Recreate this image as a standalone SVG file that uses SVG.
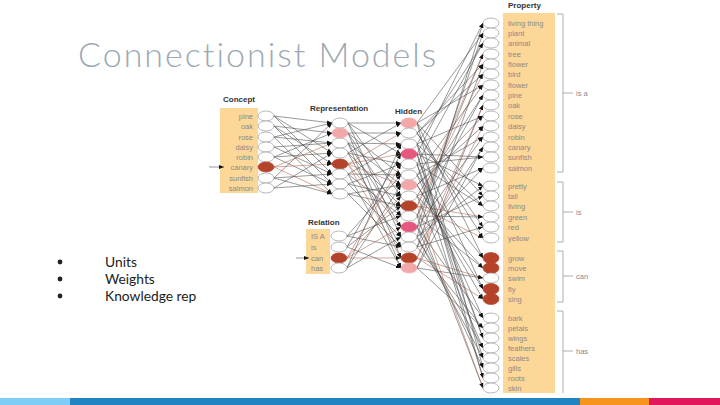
<svg xmlns="http://www.w3.org/2000/svg" width="720" height="405" viewBox="0 0 720 405">
<defs>
<marker id="a" viewBox="0 0 10 10" refX="10" refY="5" markerWidth="5" markerHeight="5" orient="auto" markerUnits="userSpaceOnUse"><path d="M0,1L10,5L0,9z" fill="#111"/></marker>
<style>
.t{font-family:"Lato","Liberation Sans",sans-serif;font-variant-ligatures:none}
.hd{font-family:"Liberation Sans",Arial,sans-serif;font-size:8px;font-weight:bold;fill:#333}
.it{font-family:"Liberation Sans",Arial,sans-serif;font-size:7.5px;fill:#8a8a8a}
.box{fill:#fdd797}
.n{fill:#fff;stroke:#9a9a9a;stroke-width:0.7}
.d{fill:#b4432a;stroke:#b4432a}
.lp{fill:#f2a7a8;stroke:#f2a7a8}
.hp{fill:#e6587e;stroke:#e6587e}
#links line{stroke:#444;stroke-width:0.55;marker-end:url(#a)}
#links line.r{stroke:#b0604a}
.br{stroke:#9a9a9a;stroke-width:0.8;fill:none}
</style>
</defs>
<rect width="720" height="405" fill="#fff"/>
<text class="t" x="78" y="67" font-size="34" font-weight="300" fill="#9ba9b4" letter-spacing="2">Connectionist Models</text>
<g id="bullets" class="t" font-size="13.8" fill="#222">
<circle cx="60" cy="262" r="2.4"/><text x="105" y="266.5">Units</text>
<circle cx="60" cy="279" r="2.4"/><text x="105" y="283.5">Weights</text>
<circle cx="60" cy="296" r="2.4"/><text x="105" y="300.5">Knowledge rep</text>
</g>
<g id="concept-box">
<rect class="box" x="220" y="108" width="38" height="85"/>
<text class="hd" x="223" y="102">Concept</text>
<g class="it" text-anchor="end">
<text x="253" y="119">pine</text><text x="253" y="129">oak</text><text x="253" y="140">rose</text><text x="253" y="150">daisy</text><text x="253" y="160">robin</text><text x="253" y="170">canary</text><text x="253" y="181">sunfish</text><text x="253" y="191">salmon</text>
</g>
</g>
<g id="relation-box">
<rect class="box" x="306" y="229" width="24" height="45"/>
<text class="hd" x="308" y="225">Relation</text>
<g class="it"><text x="311" y="239">IS A</text><text x="311" y="250">is</text><text x="311" y="261">can</text><text x="311" y="271">has</text></g>
</g>
<g id="property-box">
<rect class="box" x="503" y="13" width="52" height="380"/>
<text class="hd" x="508" y="8">Property</text>
<g class="it">
<text x="508" y="26">living thing</text><text x="508" y="36">plant</text><text x="508" y="46">animal</text><text x="508" y="57">tree</text><text x="508" y="67">flower</text><text x="508" y="77">bird</text><text x="508" y="88">flower</text><text x="508" y="98">pine</text><text x="508" y="108">oak</text><text x="508" y="119">rose</text><text x="508" y="129">daisy</text><text x="508" y="140">robin</text><text x="508" y="150">canary</text><text x="508" y="160">sunfish</text><text x="508" y="171">salmon</text>
<text x="508" y="189">pretty</text><text x="508" y="199">tall</text><text x="508" y="209">living</text><text x="508" y="220">green</text><text x="508" y="230">red</text><text x="508" y="241">yellow</text>
<text x="508" y="261">grow</text><text x="508" y="271">move</text><text x="508" y="281">swim</text><text x="508" y="292">fly</text><text x="508" y="302">sing</text>
<text x="508" y="321">bark</text><text x="508" y="331">petals</text><text x="508" y="341">wings</text><text x="508" y="351">feathers</text><text x="508" y="361">scales</text><text x="508" y="371">gills</text><text x="508" y="381">roots</text><text x="508" y="391">skin</text>
</g>
</g>
<g id="brackets">
<path class="br" d="M557,14H563V172H557M563,93H573"/>
<path class="br" d="M557,182H563V242H557M563,212H573"/>
<path class="br" d="M557,251H563V302H557M563,276H573"/>
<path class="br" d="M557,311H563V393M563,351H573"/>
<g class="it"><text x="576" y="96">is a</text><text x="576" y="215">is</text><text x="576" y="279">can</text><text x="576" y="354">has</text></g>
</g>
<g id="links">
<line x1="209" y1="167" x2="224" y2="167"/>
<line x1="296" y1="258" x2="309" y2="258"/>
<line x1="274" y1="116" x2="332" y2="123"/><line x1="274" y1="116" x2="332" y2="153"/><line x1="274" y1="116" x2="332" y2="174"/>
<line x1="274" y1="126" x2="332" y2="133"/><line x1="274" y1="126" x2="332" y2="164"/><line x1="274" y1="126" x2="332" y2="184"/>
<line x1="274" y1="137" x2="332" y2="123"/><line x1="274" y1="137" x2="332" y2="143"/><line x1="274" y1="137" x2="332" y2="194"/>
<line x1="274" y1="147" x2="332" y2="143"/><line x1="274" y1="147" x2="332" y2="174"/>
<line x1="274" y1="157" x2="332" y2="133"/><line x1="274" y1="157" x2="332" y2="153"/><line x1="274" y1="157" x2="332" y2="184"/>
<line class="r" x1="274" y1="167" x2="332" y2="143"/><line class="r" x1="274" y1="167" x2="332" y2="164"/><line class="r" x1="274" y1="167" x2="332" y2="194"/>
<line x1="274" y1="178" x2="332" y2="123"/><line x1="274" y1="178" x2="332" y2="174"/><line x1="274" y1="178" x2="332" y2="194"/>
<line x1="274" y1="188" x2="332" y2="153"/><line x1="274" y1="188" x2="332" y2="184"/>
<line x1="348" y1="123" x2="401" y2="123"/><line x1="348" y1="123" x2="401" y2="154"/><line x1="348" y1="123" x2="401" y2="196"/><line x1="348" y1="123" x2="401" y2="237"/>
<line x1="348" y1="133" x2="401" y2="133"/><line x1="348" y1="133" x2="401" y2="175"/><line x1="348" y1="133" x2="401" y2="216"/><line x1="348" y1="133" x2="401" y2="258"/>
<line x1="348" y1="143" x2="401" y2="144"/><line x1="348" y1="143" x2="401" y2="185"/><line x1="348" y1="143" x2="401" y2="227"/><line x1="348" y1="143" x2="401" y2="268"/>
<line x1="348" y1="153" x2="401" y2="123"/><line x1="348" y1="153" x2="401" y2="164"/><line x1="348" y1="153" x2="401" y2="206"/><line x1="348" y1="153" x2="401" y2="247"/>
<line class="r" x1="348" y1="164" x2="401" y2="133"/><line class="r" x1="348" y1="164" x2="401" y2="154"/><line class="r" x1="348" y1="164" x2="401" y2="185"/><line class="r" x1="348" y1="164" x2="401" y2="227"/><line class="r" x1="348" y1="164" x2="401" y2="258"/>
<line x1="348" y1="174" x2="401" y2="144"/><line x1="348" y1="174" x2="401" y2="175"/><line x1="348" y1="174" x2="401" y2="216"/><line x1="348" y1="174" x2="401" y2="268"/>
<line x1="348" y1="184" x2="401" y2="164"/><line x1="348" y1="184" x2="401" y2="196"/><line x1="348" y1="184" x2="401" y2="237"/>
<line x1="348" y1="194" x2="401" y2="185"/><line x1="348" y1="194" x2="401" y2="206"/><line x1="348" y1="194" x2="401" y2="247"/>
<line x1="347" y1="236" x2="401" y2="175"/><line x1="347" y1="236" x2="401" y2="216"/><line x1="347" y1="236" x2="401" y2="247"/>
<line x1="347" y1="247" x2="401" y2="154"/><line x1="347" y1="247" x2="401" y2="206"/><line x1="347" y1="247" x2="401" y2="268"/>
<line class="r" x1="347" y1="258" x2="401" y2="164"/><line class="r" x1="347" y1="258" x2="401" y2="196"/><line class="r" x1="347" y1="258" x2="401" y2="227"/><line class="r" x1="347" y1="258" x2="401" y2="258"/>
<line x1="347" y1="268" x2="401" y2="144"/><line x1="347" y1="268" x2="401" y2="185"/><line x1="347" y1="268" x2="401" y2="237"/>
<line x1="417" y1="154" x2="483" y2="23"/><line x1="417" y1="237" x2="483" y2="23"/>
<line x1="417" y1="227" x2="483" y2="33"/><line x1="417" y1="123" x2="483" y2="33"/>
<line x1="417" y1="144" x2="483" y2="43"/><line x1="417" y1="164" x2="483" y2="43"/>
<line x1="417" y1="216" x2="483" y2="54"/><line class="r" x1="417" y1="206" x2="483" y2="54"/>
<line x1="417" y1="133" x2="483" y2="64"/><line x1="417" y1="247" x2="483" y2="64"/>
<line class="r" x1="417" y1="206" x2="483" y2="74"/><line x1="417" y1="133" x2="483" y2="74"/>
<line x1="417" y1="123" x2="483" y2="85"/><line x1="417" y1="175" x2="483" y2="85"/>
<line x1="417" y1="196" x2="483" y2="95"/><line x1="417" y1="216" x2="483" y2="95"/>
<line x1="417" y1="268" x2="483" y2="105"/><line class="r" x1="417" y1="258" x2="483" y2="105"/>
<line x1="417" y1="185" x2="483" y2="116"/><line x1="417" y1="144" x2="483" y2="116"/>
<line class="r" x1="417" y1="258" x2="483" y2="126"/><line x1="417" y1="185" x2="483" y2="126"/>
<line x1="417" y1="175" x2="483" y2="137"/><line x1="417" y1="227" x2="483" y2="137"/>
<line x1="417" y1="247" x2="483" y2="147"/><line x1="417" y1="268" x2="483" y2="147"/>
<line x1="417" y1="164" x2="483" y2="157"/><line x1="417" y1="154" x2="483" y2="157"/>
<line x1="417" y1="237" x2="483" y2="168"/><line x1="417" y1="196" x2="483" y2="168"/>
<line x1="417" y1="154" x2="483" y2="186"/><line x1="417" y1="237" x2="483" y2="186"/>
<line x1="417" y1="227" x2="483" y2="196"/><line x1="417" y1="123" x2="483" y2="196"/>
<line x1="417" y1="144" x2="483" y2="206"/><line x1="417" y1="164" x2="483" y2="206"/>
<line x1="417" y1="216" x2="483" y2="217"/><line class="r" x1="417" y1="206" x2="483" y2="217"/>
<line x1="417" y1="133" x2="483" y2="227"/><line x1="417" y1="247" x2="483" y2="227"/>
<line class="r" x1="417" y1="206" x2="483" y2="238"/><line x1="417" y1="133" x2="483" y2="238"/>
<line x1="417" y1="123" x2="483" y2="258"/><line x1="417" y1="175" x2="483" y2="258"/>
<line x1="417" y1="196" x2="483" y2="268"/><line x1="417" y1="216" x2="483" y2="268"/>
<line x1="417" y1="268" x2="483" y2="278"/><line class="r" x1="417" y1="258" x2="483" y2="278"/>
<line x1="417" y1="185" x2="483" y2="289"/><line x1="417" y1="144" x2="483" y2="289"/>
<line class="r" x1="417" y1="258" x2="483" y2="299"/><line x1="417" y1="185" x2="483" y2="299"/>
<line x1="417" y1="175" x2="483" y2="318"/><line x1="417" y1="227" x2="483" y2="318"/>
<line x1="417" y1="247" x2="483" y2="328"/><line x1="417" y1="268" x2="483" y2="328"/>
<line x1="417" y1="164" x2="483" y2="338"/><line x1="417" y1="154" x2="483" y2="338"/>
<line x1="417" y1="237" x2="483" y2="348"/><line x1="417" y1="196" x2="483" y2="348"/>
<line x1="417" y1="154" x2="483" y2="358"/><line x1="417" y1="237" x2="483" y2="358"/>
<line x1="417" y1="227" x2="483" y2="368"/><line x1="417" y1="123" x2="483" y2="368"/>
<line x1="417" y1="144" x2="483" y2="378"/><line x1="417" y1="164" x2="483" y2="378"/>
<line x1="417" y1="216" x2="483" y2="388"/><line class="r" x1="417" y1="206" x2="483" y2="388"/>
</g>
<g id="concept-units">
<ellipse id="c0" class="n" cx="266" cy="116" rx="8" ry="5"/><ellipse id="c1" class="n" cx="266" cy="126" rx="8" ry="5"/><ellipse id="c2" class="n" cx="266" cy="137" rx="8" ry="5"/><ellipse id="c3" class="n" cx="266" cy="147" rx="8" ry="5"/><ellipse id="c4" class="n" cx="266" cy="157" rx="8" ry="5"/><ellipse id="c5" class="n d" cx="266" cy="167" rx="8" ry="5"/><ellipse id="c6" class="n" cx="266" cy="178" rx="8" ry="5"/><ellipse id="c7" class="n" cx="266" cy="188" rx="8" ry="5"/>
</g>
<g id="representation-units">
<text class="hd" x="310" y="111">Representation</text>
<ellipse id="r0" class="n" cx="340" cy="123" rx="8" ry="5"/><ellipse id="r1" class="n lp" cx="340" cy="133" rx="8" ry="5"/><ellipse id="r2" class="n" cx="340" cy="143" rx="8" ry="5"/><ellipse id="r3" class="n" cx="340" cy="153" rx="8" ry="5"/><ellipse id="r4" class="n d" cx="340" cy="164" rx="8" ry="5"/><ellipse id="r5" class="n" cx="340" cy="174" rx="8" ry="5"/><ellipse id="r6" class="n" cx="340" cy="184" rx="8" ry="5"/><ellipse id="r7" class="n" cx="340" cy="194" rx="8" ry="5"/>
</g>
<g id="relation-units">
<ellipse id="q0" class="n" cx="339" cy="236" rx="8" ry="5"/><ellipse id="q1" class="n" cx="339" cy="247" rx="8" ry="5"/><ellipse id="q2" class="n d" cx="339" cy="258" rx="8" ry="5"/><ellipse id="q3" class="n" cx="339" cy="268" rx="8" ry="5"/>
</g>
<g id="hidden-units">
<text class="hd" x="395" y="114">Hidden</text>
<ellipse id="h0" class="n lp" cx="409" cy="123" rx="8" ry="5"/><ellipse id="h1" class="n" cx="409" cy="133" rx="8" ry="5"/><ellipse id="h2" class="n" cx="409" cy="144" rx="8" ry="5"/><ellipse id="h3" class="n hp" cx="409" cy="154" rx="8" ry="5"/><ellipse id="h4" class="n" cx="409" cy="164" rx="8" ry="5"/><ellipse id="h5" class="n" cx="409" cy="175" rx="8" ry="5"/><ellipse id="h6" class="n lp" cx="409" cy="185" rx="8" ry="5"/><ellipse id="h7" class="n" cx="409" cy="196" rx="8" ry="5"/><ellipse id="h8" class="n d" cx="409" cy="206" rx="8" ry="5"/><ellipse id="h9" class="n" cx="409" cy="216" rx="8" ry="5"/><ellipse id="h10" class="n hp" cx="409" cy="227" rx="8" ry="5"/><ellipse id="h11" class="n" cx="409" cy="237" rx="8" ry="5"/><ellipse id="h12" class="n" cx="409" cy="247" rx="8" ry="5"/><ellipse id="h13" class="n d" cx="409" cy="258" rx="8" ry="5"/><ellipse id="h14" class="n lp" cx="409" cy="268" rx="8" ry="5"/>
</g>
<g id="property-units">
<ellipse id="p0" class="n" cx="491" cy="23" rx="8" ry="5"/><ellipse id="p1" class="n" cx="491" cy="33" rx="8" ry="5"/><ellipse id="p2" class="n" cx="491" cy="43" rx="8" ry="5"/><ellipse id="p3" class="n" cx="491" cy="54" rx="8" ry="5"/><ellipse id="p4" class="n" cx="491" cy="64" rx="8" ry="5"/><ellipse id="p5" class="n" cx="491" cy="74" rx="8" ry="5"/><ellipse id="p6" class="n" cx="491" cy="85" rx="8" ry="5"/><ellipse id="p7" class="n" cx="491" cy="95" rx="8" ry="5"/><ellipse id="p8" class="n" cx="491" cy="105" rx="8" ry="5"/><ellipse id="p9" class="n" cx="491" cy="116" rx="8" ry="5"/><ellipse id="p10" class="n" cx="491" cy="126" rx="8" ry="5"/><ellipse id="p11" class="n" cx="491" cy="137" rx="8" ry="5"/><ellipse id="p12" class="n" cx="491" cy="147" rx="8" ry="5"/><ellipse id="p13" class="n" cx="491" cy="157" rx="8" ry="5"/><ellipse id="p14" class="n" cx="491" cy="168" rx="8" ry="5"/>
<ellipse id="p15" class="n" cx="491" cy="186" rx="8" ry="5"/><ellipse id="p16" class="n" cx="491" cy="196" rx="8" ry="5"/><ellipse id="p17" class="n" cx="491" cy="206" rx="8" ry="5"/><ellipse id="p18" class="n" cx="491" cy="217" rx="8" ry="5"/><ellipse id="p19" class="n" cx="491" cy="227" rx="8" ry="5"/><ellipse id="p20" class="n" cx="491" cy="238" rx="8" ry="5"/>
<ellipse id="p21" class="n d" cx="491" cy="258" rx="8" ry="5.5"/><ellipse id="p22" class="n d" cx="491" cy="268" rx="8" ry="5.5"/><ellipse id="p23" class="n" cx="491" cy="278" rx="8" ry="5"/><ellipse id="p24" class="n d" cx="491" cy="289" rx="8" ry="5.5"/><ellipse id="p25" class="n d" cx="491" cy="299" rx="8" ry="5.5"/>
<ellipse id="p26" class="n" cx="491" cy="318" rx="8" ry="5"/><ellipse id="p27" class="n" cx="491" cy="328" rx="8" ry="5"/><ellipse id="p28" class="n" cx="491" cy="338" rx="8" ry="5"/><ellipse id="p29" class="n" cx="491" cy="348" rx="8" ry="5"/><ellipse id="p30" class="n" cx="491" cy="358" rx="8" ry="5"/><ellipse id="p31" class="n" cx="491" cy="368" rx="8" ry="5"/><ellipse id="p32" class="n" cx="491" cy="378" rx="8" ry="5"/><ellipse id="p33" class="n" cx="491" cy="388" rx="8" ry="5"/>
</g>
<g id="footer-bar">
<rect x="0" y="398" width="70" height="7" fill="#7fcdf6"/>
<rect x="70" y="398" width="510" height="7" fill="#2283c3"/>
<rect x="580" y="398" width="69" height="7" fill="#f7941d"/>
<rect x="649" y="398" width="71" height="7" fill="#e2165a"/>
</g>
</svg>
